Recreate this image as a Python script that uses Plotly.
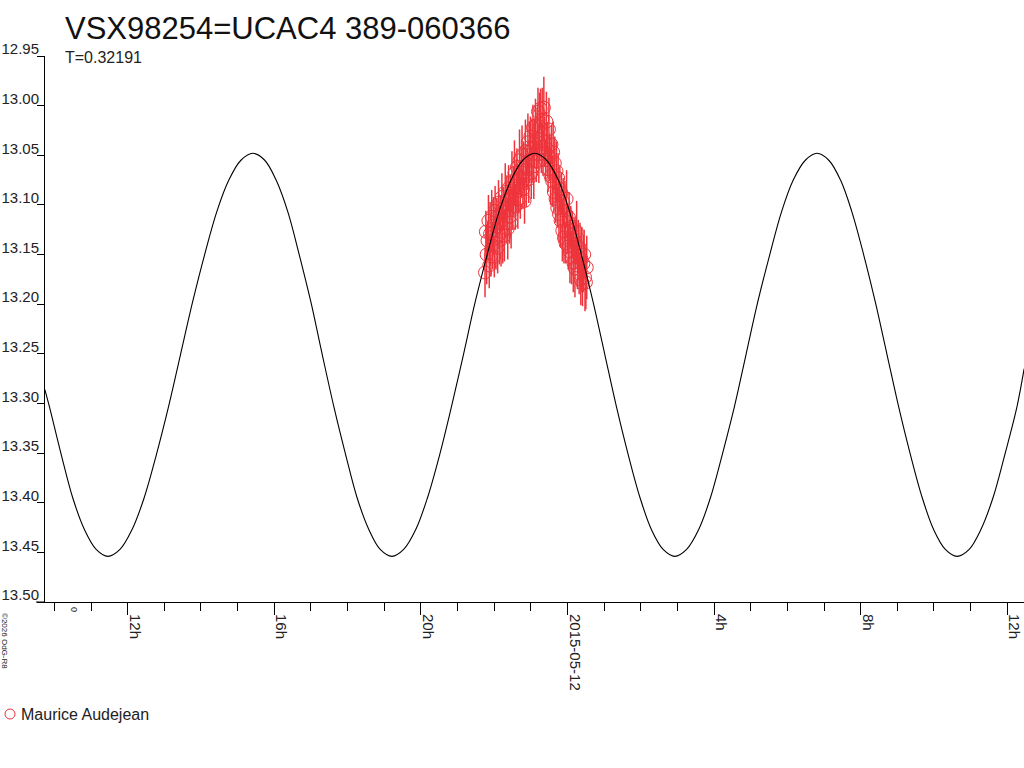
import pandas as pd
import plotly.graph_objects as go

# ---------------- data ----------------
base_date = "2015-05-12 00:00"

# fitted light curve, hours relative to 2015-05-12 00:00 and magnitude
curve_hours = [-14.26, -14.13, -13.81, -13.50, -13.18, -12.86, -12.54,
               -12.21, -11.88, -11.55, -11.22, -10.89, -10.56, -10.23, -9.90, -9.57, -9.24, -8.91, -8.58,
               -8.26, -7.95, -7.63, -7.32, -7.00, -6.69, -6.37, -6.05, -5.74, -5.42, -5.11, -4.79,
               -4.47, -4.14, -3.82, -3.49, -3.17, -2.84, -2.52, -2.19, -1.87, -1.54, -1.22, -0.89,
               -0.57, -0.25, 0.06, 0.38, 0.70, 1.02, 1.34, 1.66, 1.98, 2.29, 2.61, 2.93,
               3.25, 3.58, 3.90, 4.22, 4.55, 4.87, 5.19, 5.52, 5.84, 6.16, 6.49, 6.81,
               7.13, 7.45, 7.76, 8.08, 8.40, 8.72, 9.04, 9.36, 9.68, 9.99, 10.31, 10.63,
               10.96, 11.28, 11.61, 11.93, 12.26, 12.46]
curve_mag = [13.286, 13.304, 13.352, 13.395, 13.427, 13.447, 13.454,
             13.447, 13.427, 13.395, 13.352, 13.304, 13.251, 13.198, 13.150, 13.107, 13.075, 13.055, 13.048,
             13.055, 13.075, 13.107, 13.150, 13.198, 13.251, 13.304, 13.352, 13.395, 13.427, 13.447, 13.454,
             13.447, 13.427, 13.395, 13.352, 13.304, 13.251, 13.198, 13.150, 13.107, 13.075, 13.055, 13.048,
             13.055, 13.075, 13.107, 13.150, 13.198, 13.251, 13.304, 13.352, 13.395, 13.427, 13.447, 13.454,
             13.447, 13.427, 13.395, 13.352, 13.304, 13.251, 13.198, 13.150, 13.107, 13.075, 13.055, 13.048,
             13.055, 13.075, 13.107, 13.150, 13.198, 13.251, 13.304, 13.352, 13.395, 13.427, 13.447, 13.454,
             13.447, 13.427, 13.395, 13.352, 13.304, 13.265]

# observations (Maurice Audejean), minutes relative to 2015-05-12 00:00
obs_minutes = [-135.0, -133.6, -132.3, -130.9, -129.4, -128.1, -126.7, -125.3, -124.0, -122.6,
               -121.1, -119.8, -118.5, -117.0, -115.7, -114.3, -112.9, -111.5, -110.2, -108.8,
               -107.4, -106.0, -104.7, -103.3, -101.9, -100.5, -99.2, -97.8, -96.4, -95.0,
               -93.7, -92.3, -90.9, -89.5, -88.2, -86.8, -85.4, -84.0, -82.7, -81.3,
               -79.9, -78.5, -77.2, -75.8, -74.4, -73.0, -71.7, -70.3, -68.9, -67.5,
               -66.2, -64.8, -63.4, -62.0, -60.7, -59.3, -57.9, -56.5, -55.2, -53.8,
               -52.4, -51.0, -49.7, -48.3, -46.9, -45.5, -44.2, -42.8, -41.4, -40.0,
               -38.7, -37.3, -35.9, -34.5, -33.2, -31.8, -30.4, -29.0, -27.7, -26.3,
               -24.9, -23.5, -22.2, -20.8, -19.4, -18.0, -16.7, -15.3, -13.9, -12.5,
               -11.2, -9.8, -8.4, -7.0, -5.7, -4.3, -2.9, -1.5, -0.2, 1.2,
               2.6, 4.0, 5.3, 6.7, 8.1, 9.5, 10.8, 12.2, 13.6, 15.0,
               16.3, 17.7, 19.1, 20.5, 21.8, 23.2, 24.6, 26.0, 27.3, 28.7,
               30.1, 31.5]
obs_mag = [13.168, 13.127, 13.150, 13.136, 13.116, 13.161, 13.129, 13.152, 13.112, 13.141,
           13.121, 13.152, 13.106, 13.134, 13.113, 13.143, 13.098, 13.130, 13.109, 13.135,
           13.092, 13.127, 13.103, 13.131, 13.087, 13.118, 13.095, 13.124, 13.083, 13.112,
           13.091, 13.118, 13.076, 13.105, 13.086, 13.068, 13.102, 13.081, 13.062, 13.095,
           13.083, 13.055, 13.093, 13.067, 13.050, 13.084, 13.061, 13.096, 13.046, 13.075,
           13.064, 13.037, 13.074, 13.047, 13.031, 13.068, 13.043, 13.022, 13.061, 13.038,
           13.020, 13.056, 13.033, 13.006, 13.049, 13.021, 13.003, 13.042, 13.014, 13.048,
           13.002, 13.036, 13.055, 13.016, 13.044, 13.064, 13.024, 13.052, 13.071, 13.039,
           13.076, 13.047, 13.087, 13.058, 13.094, 13.066, 13.103, 13.073, 13.109, 13.084,
           13.116, 13.088, 13.126, 13.097, 13.133, 13.106, 13.139, 13.094, 13.124, 13.142,
           13.113, 13.147, 13.122, 13.153, 13.130, 13.158, 13.135, 13.164, 13.140, 13.127,
           13.161, 13.142, 13.169, 13.148, 13.175, 13.155, 13.179, 13.159, 13.150, 13.173,
           13.178, 13.163]
obs_err = [0.025, 0.021, 0.030, 0.019, 0.026, 0.023, 0.032, 0.020, 0.027, 0.024,
           0.029, 0.021, 0.025, 0.031, 0.020, 0.026, 0.023, 0.030, 0.019, 0.027,
           0.024, 0.032, 0.021, 0.026, 0.029, 0.020, 0.025, 0.031, 0.023, 0.027,
           0.021, 0.026, 0.030, 0.020, 0.025, 0.033, 0.023, 0.027, 0.019, 0.029,
           0.024, 0.031, 0.021, 0.026, 0.030, 0.020, 0.025, 0.023, 0.032, 0.027,
           0.021, 0.029, 0.024, 0.031, 0.020, 0.026, 0.030, 0.023, 0.033, 0.025,
           0.027, 0.021, 0.031, 0.024, 0.029, 0.034, 0.020, 0.026, 0.032, 0.023,
           0.031, 0.025, 0.021, 0.030, 0.027, 0.023, 0.032, 0.024, 0.029, 0.020,
           0.026, 0.031, 0.021, 0.027, 0.024, 0.030, 0.020, 0.025, 0.029, 0.023,
           0.027, 0.021, 0.031, 0.024, 0.026, 0.030, 0.020, 0.029, 0.025, 0.023,
           0.026, 0.032, 0.021, 0.027, 0.024, 0.030, 0.023, 0.029, 0.025, 0.031,
           0.024, 0.027, 0.021, 0.030, 0.026, 0.033, 0.023, 0.029, 0.025, 0.034,
           0.027, 0.032]

observer = "Maurice Audejean"
title_text = "VSX98254=UCAC4 389-060366"
period_text = "T=0.32191"
copyright_text = "©2026 OdG-R8"

y_tick_values = [12.95, 13.00, 13.05, 13.10, 13.15, 13.20, 13.25, 13.30, 13.35, 13.40, 13.45, 13.50]
y_tick_labels = ["12.95", "13.00", "13.05", "13.10", "13.15", "13.20", "13.25", "13.30",
                 "13.35", "13.40", "13.45", "13.50"]
x_tick_hours = [-12, -8, -4, 0, 4, 8, 12]
x_tick_labels = ["12h", "16h", "20h", "2015-05-12", "4h", "8h", "12h"]
x_range_hours = [-14.256, 12.456]

# ---------------- figure ----------------
base = pd.Timestamp(base_date)
to_time_h = lambda hs: [base + pd.Timedelta(hours=h) for h in hs]
to_time_m = lambda ms: [base + pd.Timedelta(minutes=m) for m in ms]

RED = "#EE343C"
FONT = "Liberation Sans, Arial, sans-serif"

# plot area in pixels: left 45, top 56, width 979, height 546
L, T, W, H = 45, 56, 979, 546
px = lambda x: (x - L) / W
py = lambda y: (T + H - y) / H

fig = go.Figure()

fig.add_trace(go.Scatter(
    x=to_time_m(obs_minutes), y=obs_mag, mode="markers", name=observer, showlegend=False,
    marker=dict(symbol="circle-open", size=13, color=RED, line=dict(width=1, color=RED)),
    error_y=dict(type="data", array=obs_err, visible=True, color=RED, thickness=1.5, width=0),
))

fig.add_trace(go.Scatter(
    x=to_time_h(curve_hours), y=curve_mag, mode="lines", showlegend=False,
    line=dict(color="black", width=1.1, shape="spline", smoothing=1.0),
))

fig.update_layout(
    width=1024, height=768,
    margin=dict(l=L, r=1024 - L - W, t=T, b=768 - T - H, pad=0),
    paper_bgcolor="white", plot_bgcolor="white",
    font=dict(family=FONT, size=15, color="#222"),
    showlegend=False,
    xaxis=dict(
        range=to_time_h(x_range_hours), showgrid=False, zeroline=False, automargin=False,
        showline=True, linecolor="black", linewidth=1,
        tickmode="array", tickvals=to_time_h(x_tick_hours), ticktext=x_tick_labels,
        ticks="outside", ticklen=12, tickcolor="black", tickwidth=1,
        tickangle=90, ticklabelshift=7, ticklabelstandoff=-4,
        minor=dict(dtick=3600000, tick0=base_date, ticks="outside", ticklen=8,
                   tickcolor="black", tickwidth=1, showgrid=False),
    ),
    yaxis=dict(
        range=[13.50, 12.95], showgrid=False, zeroline=False, automargin=False,
        showline=True, linecolor="black", linewidth=1,
        tickmode="array", tickvals=y_tick_values, ticktext=y_tick_labels,
        ticks="outside", ticklen=7, tickcolor="black", tickwidth=1,
        ticklabelshift=7, ticklabelstandoff=-5,
    ),
)

# title and period
fig.add_annotation(text=title_text, xref="paper", yref="paper", x=px(63), y=py(29),
                   xanchor="left", yanchor="middle", showarrow=False,
                   font=dict(size=31, color="#111", family=FONT))
fig.add_annotation(text=period_text, xref="paper", yref="paper", x=px(63), y=py(57),
                   xanchor="left", yanchor="middle", showarrow=False,
                   font=dict(size=16, color="#222", family=FONT))
# legend (drawn by hand to match the compact layout)
fig.add_shape(type="circle", xref="paper", yref="paper",
              x0=px(5), x1=px(15), y0=py(719), y1=py(709),
              line=dict(color=RED, width=1))
fig.add_annotation(text=observer, xref="paper", yref="paper", x=px(19), y=py(714),
                   xanchor="left", yanchor="middle", showarrow=False,
                   font=dict(size=16, color="#222", family=FONT))
# copyright (rotated)
fig.add_annotation(text=copyright_text, xref="paper", yref="paper", x=px(5), y=py(641),
                   xanchor="center", yanchor="middle", showarrow=False, textangle=90,
                   font=dict(size=8, color="#222", family=FONT))
# small glyph under the axis near the left
fig.add_annotation(text="0", xref="paper", yref="paper", x=px(74), y=py(609),
                   xanchor="center", yanchor="middle", showarrow=False, textangle=90,
                   font=dict(size=9, color="#222", family=FONT))
# x axis line extending left of the y axis
fig.add_shape(type="line", xref="paper", yref="paper", x0=px(36), x1=0, y0=0, y1=0,
              line=dict(color="black", width=1))

fig.write_html("out.html", config={"displayModeBar": False},
               post_script="document.body.style.margin='0px';")
